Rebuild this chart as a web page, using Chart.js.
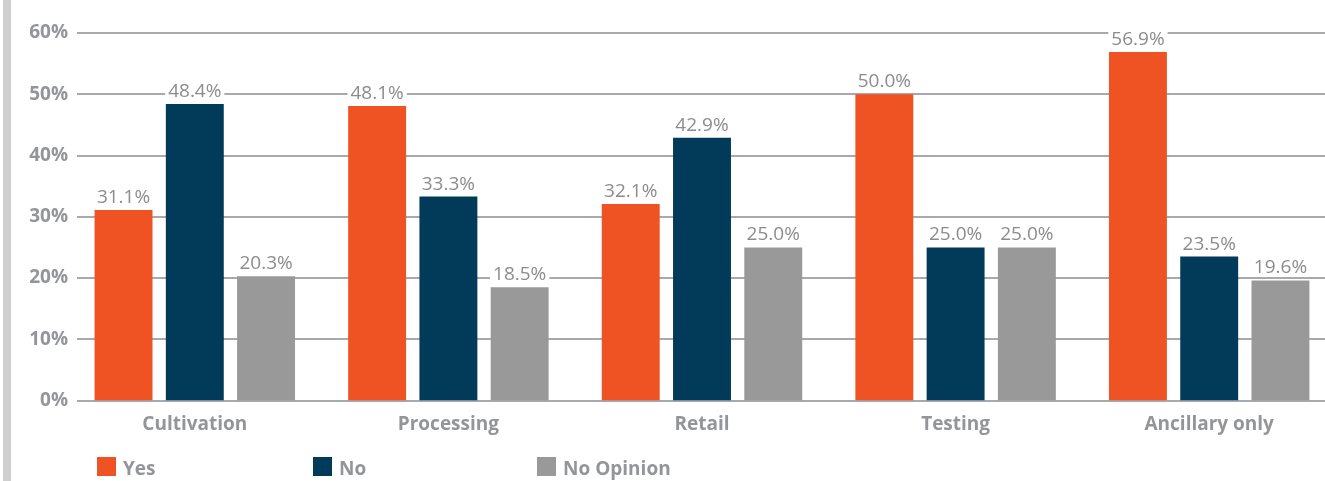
<!DOCTYPE html>
<html>
<head>
<meta charset="utf-8">
<script src="https://cdn.jsdelivr.net/npm/chart.js@4"></script>
<style>
  html, body { margin: 0; padding: 0; background: #fff; overflow: hidden; }
  #wrap { position: relative; width: 1325px; height: 481px; overflow: hidden; }
  #strip { position: absolute; left: 3px; top: 0; width: 8px; height: 481px; background: #cfcfcf; }
  canvas { position: absolute; left: 0; top: 0; }
</style>
</head>
<body>
<div id="wrap">
  <canvas id="surveyChart" width="1345" height="481"></canvas>
  <div id="strip"></div>
</div>
<script>
const categories = ["Cultivation", "Processing", "Retail", "Testing", "Ancillary only"];
const seriesNames = ["Yes", "No", "No Opinion"];
const yesValues = [31.1, 48.1, 32.1, 50.0, 56.9];
const noValues = [48.4, 33.3, 42.9, 25.0, 23.5];
const noOpinionValues = [20.3, 18.5, 25.0, 25.0, 19.6];
const yTicks = [0, 10, 20, 30, 40, 50, 60];

const colors = ["#ef5323", "#023b5a", "#999999"];
const textGray = "#939598";
const gridGray = "#a7a9ac";
const font = '"Open Sans", sans-serif';

// horizontal rules, starting a little right of the tick labels
const gridLines = {
  id: "gridLines",
  beforeDatasetsDraw(chart) {
    const { ctx, scales: { y } } = chart;
    ctx.save();
    ctx.strokeStyle = gridGray;
    ctx.lineWidth = 2;
    yTicks.forEach(t => {
      const py = Math.round(y.getPixelForValue(t));
      ctx.beginPath();
      ctx.moveTo(77, py);
      ctx.lineTo(chart.width, py);
      ctx.stroke();
    });
    ctx.restore();
  }
};

// value labels on a white box so the rule breaks around them
const valueLabels = {
  id: "valueLabels",
  afterDatasetsDraw(chart) {
    const { ctx } = chart;
    ctx.save();
    ctx.font = "400 19px " + font;
    ctx.textAlign = "center";
    ctx.textBaseline = "alphabetic";
    chart.data.datasets.forEach((ds, i) => {
      chart.getDatasetMeta(i).data.forEach((bar, j) => {
        const txt = ds.data[j].toFixed(1) + "%";
        const w = ctx.measureText(txt).width;
        const base = bar.y - 7;
        ctx.fillStyle = "#fff";
        ctx.fillRect(bar.x - w / 2 - 3, base - 16, w + 6, 19);
        ctx.fillStyle = "#8c8c8f";
        ctx.fillText(txt, bar.x, base);
      });
    });
    ctx.restore();
  }
};

// legend row along the bottom
const legendRow = {
  id: "legendRow",
  afterDraw(chart) {
    const { ctx } = chart;
    const xs = [97, 313, 537];
    ctx.save();
    ctx.font = "700 19px " + font;
    ctx.textBaseline = "middle";
    seriesNames.forEach((name, i) => {
      ctx.fillStyle = colors[i];
      ctx.fillRect(xs[i], 457, 19, 19);
      ctx.fillStyle = textGray;
      ctx.fillText(name, xs[i] + 26, 469.5);
    });
    ctx.restore();
  }
};

new Chart(document.getElementById("surveyChart"), {
  type: "bar",
  data: {
    labels: categories,
    datasets: [
      { label: seriesNames[0], data: yesValues, backgroundColor: colors[0] },
      { label: seriesNames[1], data: noValues, backgroundColor: colors[1] },
      { label: seriesNames[2], data: noOpinionValues, backgroundColor: colors[2] }
    ]
  },
  options: {
    responsive: false,
    animation: false,
    categoryPercentage: 0.843,
    barPercentage: 0.813,
    layout: { padding: { top: 33, bottom: 0, left: 0, right: 9 } },
    plugins: { legend: { display: false }, tooltip: { enabled: false } },
    scales: {
      x: {
        afterFit(s) { s.height = 80.5; },
        grid: { display: false },
        border: { display: false },
        ticks: { color: textGray, font: { family: font, size: 19, weight: "700" }, padding: 5 }
      },
      y: {
        min: 0,
        max: 60,
        afterFit(s) { s.width = 68; },
        afterBuildTicks(s) { s.ticks = yTicks.map(v => ({ value: v })); },
        grid: { display: false, drawTicks: false },
        border: { display: false },
        ticks: {
          color: textGray,
          padding: 0,
          font: { family: font, size: 19, weight: "700" },
          callback: v => v + "%"
        }
      }
    }
  },
  plugins: [gridLines, valueLabels, legendRow]
});
</script>
</body>
</html>
